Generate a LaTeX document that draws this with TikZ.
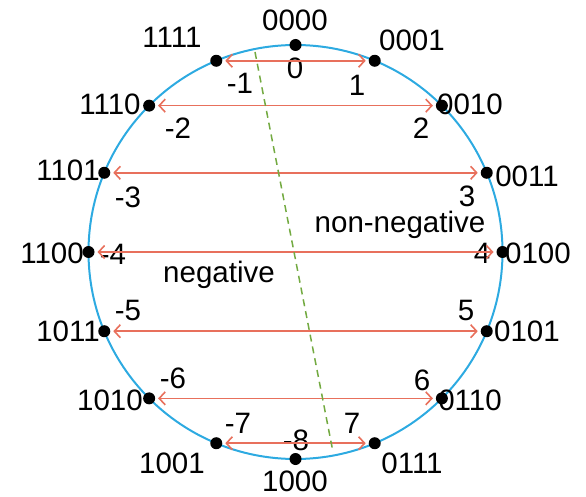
\documentclass[tikz,border=0pt]{standalone}
\usepackage{fontspec}
\setmainfont{Liberation Sans}
\usetikzlibrary{arrows.meta,calc}
\definecolor{ringblue}{RGB}{45,170,225}
\definecolor{pairred}{RGB}{232,112,92}
\definecolor{splitgreen}{RGB}{115,170,65}
\tikzset{
  dot/.style={circle, fill=black, inner sep=0pt, minimum size=12pt},
  pair/.style={draw=pairred, line width=1.6pt, <->, >={Straight Barb[length=6pt,width=13pt]}, shorten <=2pt, shorten >=2pt},
  txt/.style={inner sep=0pt, font=\fontsize{29.5}{31}\selectfont}
}
\begin{document}
\begin{tikzpicture}[x=1pt, y=-1pt, line width=2pt]
  \useasboundingbox (0,0) rectangle (586,497);
  % 원
  \coordinate (c) at (295.5,252);
  \draw[ringblue] (c) circle [radius=207pt];
  % 점과 비트열
  \foreach \b/\lx/\ly [count=\i from 0] in {0000/295/20, 0001/412/40, 0010/470/104, 0011/527/176,
      0100/538/253, 0101/527/331, 0110/470/400, 0111/412/463, 1000/295/481, 1001/172/463,
      1010/110/400, 1011/68/331, 1100/52/253, 1101/68/170, 1110/110/104, 1111/172/37}{
    \node[dot] (p\i) at ($(c)+(90-22.5*\i:207pt)$) {};
    \node[txt] (b\i) at (\lx,\ly) {\b};
  }
  % 값
  \foreach \v/\vx/\vy [count=\i from 0] in {0/295/68, 1/357/85, 2/421/128, 3/467/196, 4/482/253,
      5/466/310, 6/422/380, 7/352/423, -8/296/440, -7/238/423, -6/173/378, -5/128/310,
      -4/113/254, -3/128/197, -2/178/128, -1/240/83}{
    \node[txt] (v\i) at (\vx,\vy) {\v};
  }
  % 대칭 쌍
  \foreach \l/\r in {15/1, 14/2, 13/3, 12/4, 11/5, 10/6, 9/7}{
    \draw[pair] (p\l) -- (p\r);
  }
  % 부호 경계
  \coordinate (s1) at (255,52);
  \coordinate (s2) at (333,452);
  \draw[splitgreen, line width=1.5pt, dash pattern=on 7pt off 5pt] (s1) -- (s2);
  \node[txt] (nn) at (400,225) {non-negative};
  \node[txt] (ng) at (219,275) {negative};
\end{tikzpicture}
\end{document}
